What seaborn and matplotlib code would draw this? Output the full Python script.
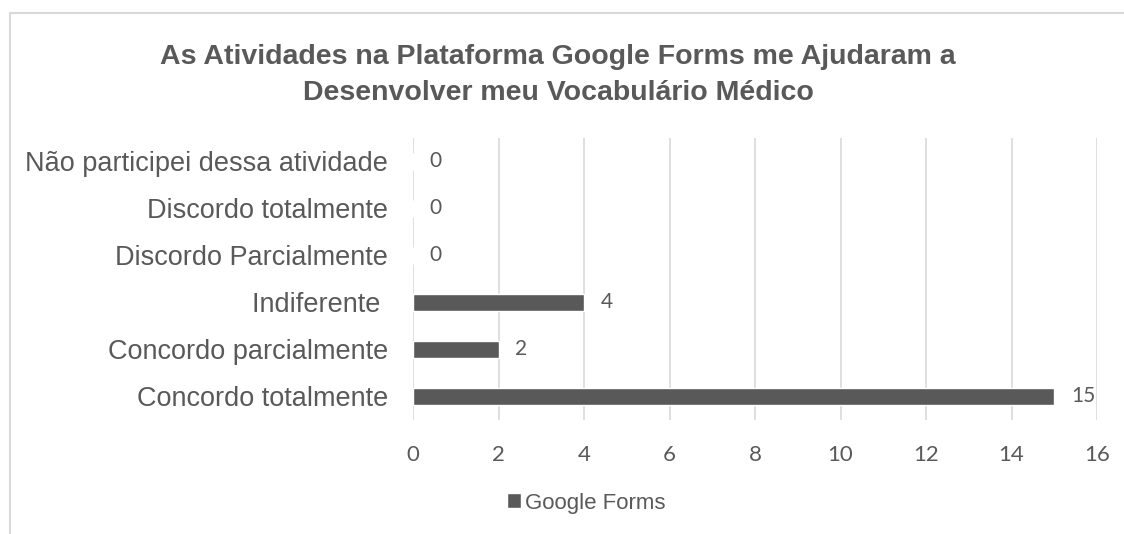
import matplotlib
matplotlib.use("Agg")
import matplotlib.pyplot as plt
import seaborn as sns
import pandas as pd
from matplotlib.patches import Rectangle

categories = ["Não participei dessa atividade", "Discordo totalmente", "Discordo Parcialmente",
              "Indiferente ", "Concordo parcialmente", "Concordo totalmente"]
values = [0, 0, 0, 4, 2, 15]
series_name = "Google Forms"
xticks = [0, 2, 4, 6, 8, 10, 12, 14, 16]

df = pd.DataFrame({"cat": categories, "val": values})

sns.set_theme(style="white")
plt.rcParams['font.family'] = ['Liberation Sans', 'DejaVu Sans']

bar_color = "#595959"
text_color = "#595959"
grid_color = "#d9d9d9"

fig = plt.figure(figsize=(11.24, 5.34), dpi=100)
fig.patch.set_facecolor("white")
fig.add_artist(Rectangle((10/1124, -0.1), 1.2, (534-13)/534 + 0.1, transform=fig.transFigure,
                         fill=False, edgecolor="#d9d9d9", linewidth=1.5))

ax = fig.add_axes([413/1124, 1-420/534, (1097-413)/1124, (420-137.5)/534])
sns.barplot(data=df, y="cat", x="val", orient="h", color=bar_color, width=0.36,
            saturation=1, ax=ax, label=series_name)
ax.set_xlim(0, 16)
ax.set_xticks(xticks)
ax.set_xlabel("")
ax.set_ylabel("")
for s in ax.spines.values():
    s.set_visible(False)
ax.grid(axis="x", color=grid_color, linewidth=1.2)
ax.set_axisbelow(True)
ax.tick_params(axis="x", length=0, pad=18, labelsize=16, labelcolor=text_color)
ax.tick_params(axis="y", length=0, pad=18, labelsize=19.5, labelcolor=text_color)
for lab in ax.get_xticklabels():
    lab.set_fontfamily(['Lato', 'DejaVu Sans'])

for i, v in enumerate(values):
    ax.annotate(str(v), (v, i), xytext=(12, 0), textcoords="offset points",
                va="center", ha="left", fontsize=15, color=text_color, family=['Lato', 'DejaVu Sans'])

leg = ax.legend(loc="center", bbox_to_anchor=(586/1124, 1-503/534), bbox_transform=fig.transFigure,
                frameon=False, fontsize=16, handlelength=0.65, handleheight=0.65, handletextpad=0.15)
for t in leg.get_texts():
    t.set_color(text_color)

fig.text(558/1124, 1-75/534, "As Atividades na Plataforma Google Forms me Ajudaram a\nDesenvolver meu Vocabulário Médico",
         ha="center", va="center", fontsize=20.5, fontweight="bold", color=text_color, linespacing=1.45)

fig.savefig("out.png", dpi=100)
